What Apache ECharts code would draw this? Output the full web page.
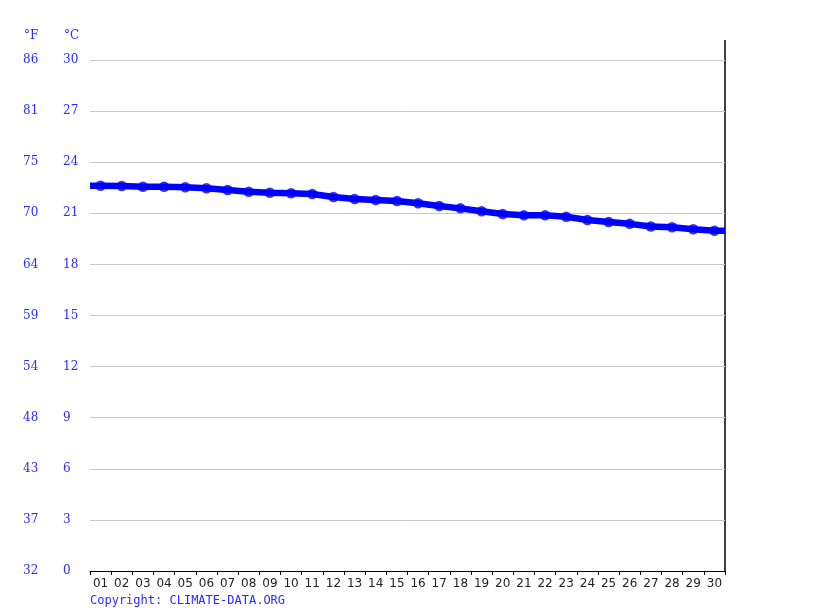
<!DOCTYPE html>
<html>
<head>
<meta charset="utf-8">
<script src="https://cdn.jsdelivr.net/npm/echarts@6/dist/echarts.min.js"></script>
<style>html,body{margin:0;padding:0;background:#fff}#c{width:815px;height:611px}</style>
</head>
<body>
<div id="c"></div>
<script>
const days = ['01','02','03','04','05','06','07','08','09','10','11','12','13','14','15','16','17','18','19','20','21','22','23','24','25','26','27','28','29','30'];
const tempC = [22.62,22.60,22.56,22.56,22.53,22.47,22.37,22.27,22.21,22.18,22.13,21.96,21.84,21.78,21.72,21.59,21.43,21.29,21.12,20.96,20.88,20.88,20.80,20.61,20.49,20.38,20.22,20.18,20.06,19.98];
const celsiusTicks = ['0','3','6','9','12','15','18','21','24','27','30'];
const fahrenheitTicks = ['32','37','43','48','54','59','64','70','75','81','86'];

const blue = '#2b2bff';
const n = days.length;
// line extended flat to both plot edges, points at category centres
const lineData = [[0, tempC[0]]].concat(tempC.map((v, i) => [i + 0.5, v]), [[n, tempC[n - 1]]]);
const pointData = tempC.map((v, i) => [i + 0.5, v]);

const chart = echarts.init(document.getElementById('c'));
chart.setOption({
  animation: false,
  grid: { left: 90, right: 90, top: 60, bottom: 40, containLabel: false },
  xAxis: [
    {
      type: 'category',
      data: days,
      boundaryGap: true,
      axisLine: { lineStyle: { color: '#000', width: 1 } },
      axisTick: { show: true, alignWithLabel: false, length: 4, lineStyle: { color: '#000' } },
      axisLabel: { color: '#222', fontFamily: 'DejaVu Sans', fontSize: 12, margin: 7, interval: 0 },
      splitLine: { show: false }
    },
    {
      type: 'value', min: 0, max: n, show: false
    }
  ],
  yAxis: [
    {
      type: 'value', min: 0, max: 30, interval: 3, position: 'left',
      axisLine: { show: false }, axisTick: { show: false },
      splitLine: { show: true, lineStyle: { color: '#c8c8c8', width: 1 } },
      axisLabel: { color: blue, fontFamily: 'DejaVu Serif', fontSize: 12, align: 'left', margin: 27,
        formatter: v => celsiusTicks[Math.round(v / 3)] }
    },
    {
      type: 'value', min: 0, max: 30, interval: 3, position: 'left',
      axisLine: { show: false }, axisTick: { show: false }, splitLine: { show: false },
      axisLabel: { color: blue, fontFamily: 'DejaVu Serif', fontSize: 12, align: 'left', margin: 67,
        formatter: v => fahrenheitTicks[Math.round(v / 3)] }
    }
  ],
  graphic: [
    { type: 'text', left: 24, top: 30, style: { text: '°F', fill: blue, font: '12px "DejaVu Serif"' } },
    { type: 'text', left: 64, top: 30, style: { text: '°C', fill: blue, font: '12px "DejaVu Serif"' } },
    { type: 'line', shape: { x1: 725, y1: 40, x2: 725, y2: 572 }, style: { stroke: '#000', lineWidth: 1.5 } },
    { type: 'text', left: 90, top: 595, style: { text: 'Copyright: CLIMATE-DATA.ORG', fill: blue, font: '12px "DejaVu Sans Mono"' } }
  ],
  series: [
    {
      type: 'line',
      xAxisIndex: 1, yAxisIndex: 0,
      data: lineData,
      showSymbol: false,
      lineStyle: { color: '#0000ff', width: 6.5 },
      itemStyle: { color: '#0000ff' },
      z: 5
    },
    {
      type: 'scatter',
      xAxisIndex: 1, yAxisIndex: 0,
      data: pointData,
      symbol: 'circle',
      symbolSize: 10.5,
      itemStyle: { color: '#0000ff' },
      z: 6
    }
  ]
});
</script>
</body>
</html>
